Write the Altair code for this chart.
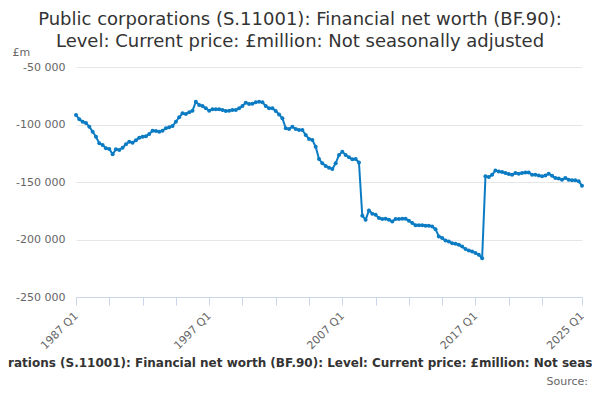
import altair as alt
import pandas as pd

# Public corporations financial net worth, £million, 1987 Q1 .. 2025 Q1
values = [
    -91700, -95500, -97600, -98700, -101900, -106300, -110600, -116400, -117800, -120700,
    -121300, -125900, -121600, -122200, -120200, -117200, -115000, -115800, -113800, -111500,
    -110600, -110300, -108300, -105400, -105700, -106300, -105400, -103300, -102400, -101300,
    -97600, -93700, -90300, -90900, -89400, -88000, -80200, -83000, -83900, -85900,
    -88000, -86800, -86800, -86800, -87400, -88300, -88000, -87400, -87400, -85900,
    -83900, -81000, -82200, -82000, -80700, -80200, -80700, -83900, -85900, -85900,
    -88300, -91200, -94600, -103300, -103900, -101900, -103900, -104800, -104800, -109100,
    -112600, -113500, -119300, -130000, -133700, -136100, -137500, -138700, -133700, -126500,
    -123600, -126500, -128500, -130200, -130000, -133000, -179300, -182800, -174700, -177600,
    -178500, -181300, -182200, -182000, -182800, -184300, -182200, -182200, -182000, -182000,
    -183700, -185600, -187600, -187700, -187600, -188000, -188000, -188600, -191000, -197400,
    -198800, -200900, -201700, -203200, -203700, -204600, -206100, -208300, -209600, -210400,
    -211800, -213300, -216200, -145100, -145600, -143700, -139900, -140800, -141400, -142200,
    -143100, -143700, -142200, -142800, -142200, -141700, -141700, -143700, -143700, -144300,
    -145100, -144300, -142800, -144600, -146500, -147000, -148000, -146500, -148000, -148500,
    -148500, -149400, -153200,
]
quarters = [f"{y} Q{q}" for y in range(1987, 2026) for q in range(1, 5)][: len(values)]
tick_quarters = quarters[0:150:10] + [quarters[-1]]
label_quarters = ["1987 Q1", "1997 Q1", "2007 Q1", "2017 Q1", "2025 Q1"]
y_ticks = [-250000, -200000, -150000, -100000, -50000]

title_lines = [
    "Public corporations (S.11001): Financial net worth (BF.90):",
    "Level: Current price: £million: Not seasonally adjusted",
]
x_title = ("Public corporations (S.11001): Financial net worth (BF.90): Level: "
           "Current price: £million: Not seasonally adjusted")
source_text = ["Source:"]

BLUE = "#0b7bc3"
FONT = "DejaVu Sans"

df = pd.DataFrame({"quarter": quarters, "value": values})
label_js = "[" + ",".join(f"'{l}'" for l in label_quarters) + "]"

line = alt.Chart(df).mark_line(
    color=BLUE, strokeWidth=2,
    point=alt.OverlayMarkDef(color=BLUE, size=16, filled=True),
).encode(
    x=alt.X(
        "quarter:O", sort=quarters,
        scale=alt.Scale(type="point", padding=0),
        axis=alt.Axis(
            values=tick_quarters,
            labelExpr=f"indexof({label_js}, datum.value) >= 0 ? datum.value : ''",
            labelAngle=-45, labelAlign="right", labelBaseline="middle",
            labelPadding=9, labelOverlap=False, labelFont=FONT, labelFontSize=11,
            labelColor="#666666", grid=False, tickSize=8, tickColor="#ccd6eb",
            domainColor="#ccd6eb",
            title=x_title, titleFont=FONT, titleFontSize=12, titleFontWeight="bold",
            titleColor="#333333", titleX=234, titleY=65, titleAlign="center",
            titleBaseline="middle",
        ),
    ),
    y=alt.Y(
        "value:Q",
        scale=alt.Scale(domain=[-250000, -50000], nice=False, zero=False),
        axis=alt.Axis(
            values=y_ticks,
            labelExpr="(datum.value < 0 ? '-' : '') + replace(format(abs(datum.value), ','), ',', ' ')",
            labelFont=FONT, labelFontSize=11, labelColor="#666666", labelPadding=11,
            ticks=False, domain=False, grid=True, gridColor="#e6e6e6",
            title="£m", titleAngle=0, titleX=-64, titleY=-15, titleAlign="left",
            titleBaseline="middle", titleFont=FONT, titleFontSize=11,
            titleFontWeight="normal", titleColor="#666666",
        ),
    ),
)

source = alt.Chart(pd.DataFrame({"t": source_text})).mark_text(
    align="right", baseline="middle", font=FONT, fontSize=11, color="#666666"
).encode(text="t:N", x=alt.value(512), y=alt.value(315))

chart = alt.layer(line, source).properties(
    width=506, height=230,
    autosize=alt.AutoSizeParams(type="none"),
    padding={"left": 68, "top": 59, "right": 10, "bottom": 95},
    title=alt.Title(
        text=title_lines, font=FONT, fontSize=18, fontWeight="normal",
        color="#333333", anchor="middle", frame="group", dx=-29, offset=-5,
        lineHeight=22,
    ),
    background="white",
).configure_view(stroke=None)

chart.save("out.html", embed_options={"renderer": "svg", "actions": False})
